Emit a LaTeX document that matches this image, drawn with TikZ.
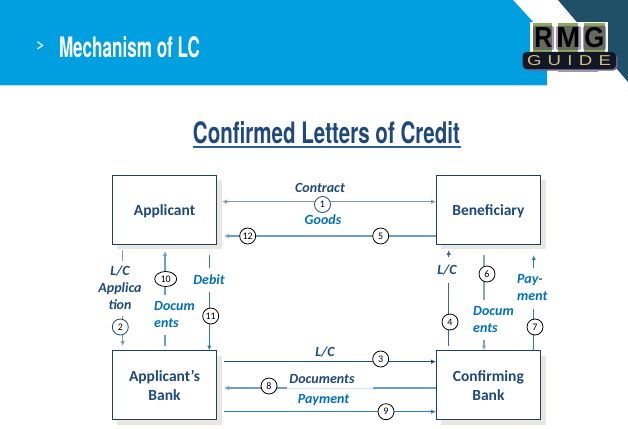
\documentclass[tikz,border=0pt]{standalone}
\usepackage{fontspec}
\setmainfont{Carlito}
\newfontfamily\narrowfont{TeX Gyre Heros}
\newfontfamily\logofont{Liberation Sans}
\usetikzlibrary{arrows.meta,shapes.geometric}
\definecolor{bandblue}{HTML}{00A0E0}
\definecolor{teal}{HTML}{1F5068}
\definecolor{navy}{HTML}{1F497D}
\definecolor{midblue}{HTML}{0070C0}
\definecolor{boxline}{HTML}{1F3F68}
\definecolor{boxshadow}{HTML}{E9E7DF}
\definecolor{titleline}{HTML}{2E5F9A}
\definecolor{greyblue}{HTML}{8496B0}
\definecolor{paleblue}{HTML}{6A9FCB}
\definecolor{softblue}{HTML}{7FA6C9}
\definecolor{lineblue}{HTML}{2E7EBF}
\definecolor{fadeblue}{HTML}{D5E3EE}
\definecolor{logogreen}{HTML}{8DAA5E}
\definecolor{logopurple}{HTML}{3A1E5E}
\definecolor{logogold}{HTML}{D8BE78}
\definecolor{logoblack}{HTML}{101828}
\definecolor{logosmudge}{HTML}{9A9A9A}
\tikzset{
  actor/.style={draw=boxline,line width=0.9pt,fill=white,minimum width=104.4pt,minimum height=69pt,inner sep=0pt,align=center,text=navy,font=\fontsize{15.5}{19}\selectfont\bfseries},
  shade box/.style={fill=boxshadow},
  flow/.style={line width=1.1pt,-{Latex[length=5pt,width=4.5pt]}},
  num/.style={circle,draw=black,line width=0.8pt,fill=white,minimum size=16pt,inner sep=0pt,font=\fontsize{10}{10}\selectfont},
  numwide/.style={ellipse,draw=black,line width=0.8pt,fill=white,minimum width=22pt,minimum height=15pt,inner sep=0pt,font=\fontsize{10}{10}\selectfont},
  navytag/.style={text=navy,fill=white,inner sep=1pt,align=center,font=\fontsize{14}{17}\selectfont\bfseries\itshape},
  bluetag/.style={text=midblue,fill=white,inner sep=1pt,align=left,font=\fontsize{14}{17}\selectfont\bfseries\itshape},
  plainlabel/.style={inner sep=0pt,outer sep=0pt},
  halo/.style={fill=logopurple,opacity=0.45,rounded corners=2pt}
}
\begin{document}
\begin{tikzpicture}[x=1pt,y=-1pt]
\useasboundingbox (0,0) rectangle (628,428);
% header
\fill[teal] (558,0) -- (628,0) -- (628,82) -- cycle;
\fill[bandblue] (0,0) -- (513,0) -- (547,37) -- (547,85) -- (0,85) -- cycle;
\draw[bandblue!30,line width=0.6pt] (0,85.3) -- (547,85.3);
\node[plainlabel,text=white] (bullet) at (40,47) {\resizebox{8pt}{11pt}{>}};
\node[plainlabel,anchor=west,text=white] (head) at (59,47) {\resizebox{141pt}{21pt}{\narrowfont\bfseries Mechanism of LC}};
% logo
\fill[white] (530,22) rectangle (608,53);
\fill[logogreen] (533,23) rectangle (552,52);
\fill[logogreen] (558,23) rectangle (578,52);
\fill[logogreen] (584,23) rectangle (605,52);
\fill[halo] (533,26) rectangle (554,50);
\fill[halo] (556,26) rectangle (581,50);
\fill[halo] (583,26) rectangle (606,50);
\node[plainlabel,text=black] (logoR) at (543.3,37.5) {\resizebox{18pt}{20pt}{\logofont\bfseries R}};
\node[plainlabel,text=black] (logoM) at (568.3,37.5) {\resizebox{24pt}{20pt}{\logofont\bfseries M}};
\node[plainlabel,text=black] (logoG) at (594.3,37.5) {\resizebox{20pt}{20pt}{\logofont\bfseries G}};
\fill[logopurple!70,rounded corners=4pt] (524,54) rectangle (617.5,70.5);
\fill[logoblack,rounded corners=4pt] (522.5,52) rectangle (616,69);
\node[plainlabel,text=logogold] (logoguide) at (569,60.5) {\resizebox{84pt}{10pt}{\logofont G\,\,U\,\,I\,\,D\,\,E}};
\fill[logosmudge] (558,70.5) rectangle (598,72);
% title
\node[plainlabel,text=navy] (title) at (326.5,132.5) {\resizebox{267pt}{22pt}{\narrowfont\bfseries Confirmed Letters of Credit}};
\coordinate (ulL) at (193,147);
\coordinate (ulR) at (460.5,147);
\draw[titleline,line width=1.6pt] (ulL) -- (ulR);
% box shadows
\fill[shade box] (117.3,180) rectangle (221.7,249);
\fill[shade box] (441,180) rectangle (545.7,249);
\fill[shade box] (117.3,356) rectangle (221.7,425);
\fill[shade box] (441,356) rectangle (545.7,425);
% boxes
\node[actor] (app) at (164.5,209.5) {\raisebox{-5.5pt}[0pt][0pt]{Applicant}};
\node[actor] (ben) at (488.4,209.5) {\raisebox{-5.5pt}[0pt][0pt]{Beneficiary}};
\node[actor] (abank) at (164.5,385.4) {Applicant’s\\Bank};
\node[actor] (cbank) at (488.4,385.4) {Confirming\\Bank};
% free ends
\coordinate (c1L) at (222,201.7); \coordinate (c1R) at (436,201.7);
\coordinate (c5L) at (224,236); \coordinate (c5R) at (436,236);
\coordinate (c3L) at (224,361.7); \coordinate (c3R) at (436,361.7);
\coordinate (c8L) at (224,388); \coordinate (c8M) at (287,388); \coordinate (c8N) at (373,388); \coordinate (c8R) at (436,388);
\coordinate (c9L) at (224,411.7); \coordinate (c9R) at (436,411.7);
\coordinate (v2T) at (122.7,250); \coordinate (v2B) at (122.7,346);
\coordinate (v10T) at (165,251); \coordinate (v10B) at (165,346);
\coordinate (v11T) at (209.3,255); \coordinate (v11B) at (209.3,350.5);
\coordinate (v4T) at (448.7,250); \coordinate (v4B) at (448.7,346);
\coordinate (v6T) at (484,255); \coordinate (v6B) at (484,350.5);
\coordinate (v7T) at (533.7,255); \coordinate (v7B) at (533.7,350.5);
% horizontal connectors
\draw[flow,line width=1.4pt,greyblue,{Latex[length=5pt,width=4.5pt]}-{Latex[length=5pt,width=4.5pt]}] (c1L) -- (c1R);
\draw[flow,paleblue] (c5R) -- (c5L);
\draw[flow,navy] (c3L) -- (c3R);
\draw[paleblue,line width=1.1pt] (c8R) -- (c8N);
\draw[fadeblue,line width=1pt] (c8N) -- (c8M);
\draw[flow,paleblue] (c8M) -- (c8L);
\draw[flow,lineblue] (c9L) -- (c9R);
% vertical connectors
\draw[flow,greyblue] (v2T) -- (v2B);
\draw[flow,paleblue] (v10B) -- (v10T);
\draw[flow,lineblue] (v11T) -- (v11B);
\draw[flow,navy!85!white] (v4B) -- (v4T);
\draw[flow,softblue] (v6T) -- (v6B);
\draw[flow,lineblue] (v7B) -- (v7T);
% labels
\node[navytag,fill=none] (lcontract) at (320,187.5) {Contract};
\node[bluetag,fill=none] (lgoods) at (323,219.5) {Goods};
\node[navytag,fill=none] (llc) at (325,352) {L/C};
\node[navytag] (ldocs) at (322,379) {Documents};
\node[bluetag,fill=none] (lpay) at (323.5,400.5) {Payment};
\node[navytag,inner sep=0pt,minimum height=55pt] (lapp) at (120,288) {L/C\\Applica\\tion};
\node[bluetag,anchor=west,inner sep=0pt,minimum height=40pt] (ldoc10) at (154,315) {Docum\\ents};
\node[bluetag,minimum height=24pt] (ldebit) at (209,280) {Debit};
\node[navytag,minimum height=26pt] (llc4) at (447,270) {L/C};
\node[bluetag,anchor=west,inner sep=0pt,minimum height=40pt] (ldoc6) at (473,320) {Docum\\ents};
\node[bluetag,anchor=west,inner sep=0pt,minimum height=41pt] (lpay7) at (517,288) {Pay-\\ment};
% numbered circles
\node[num,draw=navy] (n1) at (322.5,204.5) {1};
\node[num,draw=navy] (n2) at (120.3,327) {2};
\node[num] (n3) at (380.7,359) {3};
\node[num] (n4) at (450,322) {4};
\node[num] (n5) at (380.7,236) {5};
\node[num] (n6) at (487,274) {6};
\node[num] (n7) at (535,327) {7};
\node[num] (n8) at (269,386) {8};
\node[num] (n9) at (386,411.7) {9};
\node[numwide] (n10) at (165.7,279) {10};
\node[num] (n11) at (210.7,316) {11};
\node[num] (n12) at (247.7,236) {12};
\end{tikzpicture}
\end{document}
